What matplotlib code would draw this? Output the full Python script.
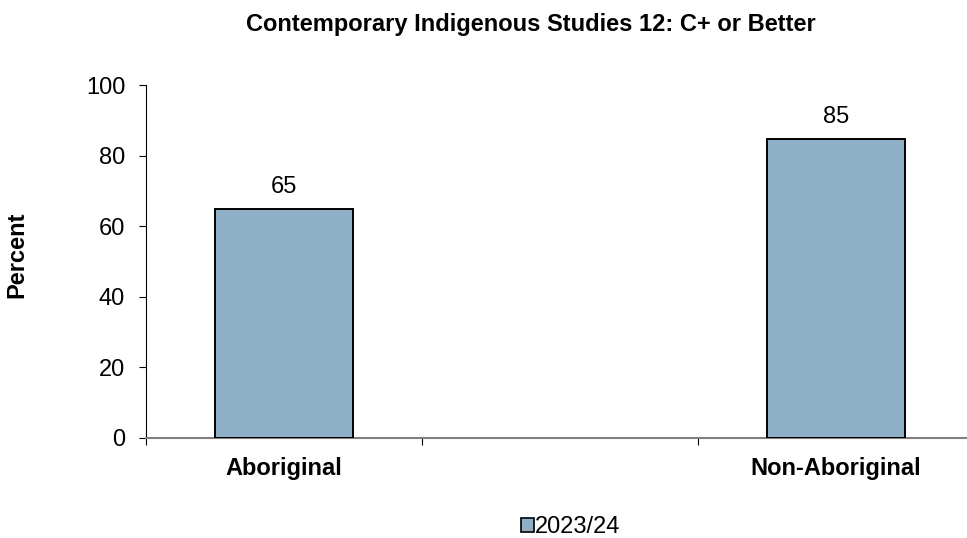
import matplotlib
matplotlib.use("Agg")
import matplotlib.pyplot as plt
from matplotlib.patches import Patch

plt.rcParams["font.family"] = ["Liberation Sans", "DejaVu Sans"]

# 数据
categories = ["Aboriginal", "Non-Aboriginal"]
slots = [0, 2]            # 中间留一个空槽位
values = [64.9, 84.6]
series_name = "2023/24"
title = "Contemporary Indigenous Studies 12: C+ or Better"

bar_color = "#8FB0C7"
fs = 17

fig = plt.figure(figsize=(9.67, 5.38), dpi=100)
ax = fig.add_axes([0.151, 0.186, 0.856, 0.656])

ax.bar(slots, values, width=0.5, color=bar_color, edgecolor="black", linewidth=1.4, zorder=3)
for x, v in zip(slots, values):
    ax.text(x, v + 4.6, f"{v:.0f}", ha="center", va="baseline", fontsize=fs)

ax.set_xlim(-0.5, 2.5)
ax.set_ylim(0, 100)
ax.set_yticks(range(0, 101, 20))
ax.tick_params(axis="y", labelsize=fs, length=5, width=0.8, direction="out", pad=10)
ax.set_xticks(slots)
ax.set_xticklabels(categories, fontsize=fs, fontweight="bold")
ax.tick_params(axis="x", which="major", length=0, pad=13.5)
ax.set_xticks([-0.5, 0.5, 1.5, 2.5], minor=True)
ax.tick_params(axis="x", which="minor", length=5, width=0.8)

for s in ("top", "right"):
    ax.spines[s].set_visible(False)
ax.spines["left"].set_linewidth(0.8)
ax.spines["bottom"].set_color("#808080")
ax.spines["bottom"].set_linewidth(1.5)

ax.set_ylabel("Percent", fontsize=fs, fontweight="bold", va="center")
ax.yaxis.set_label_coords(-0.156, 0.52)

fig.text(0.549, 0.942, title, ha="center", va="baseline", fontsize=fs, fontweight="bold")

handle = Patch(facecolor=bar_color, edgecolor="black", linewidth=1.2)
fig.legend([handle], [series_name], loc="center", bbox_to_anchor=(0.59, 0.02),
           frameon=False, fontsize=fs, handlelength=0.55, handleheight=0.55,
           handletextpad=0.05)

fig.savefig("out.png", dpi=100)
